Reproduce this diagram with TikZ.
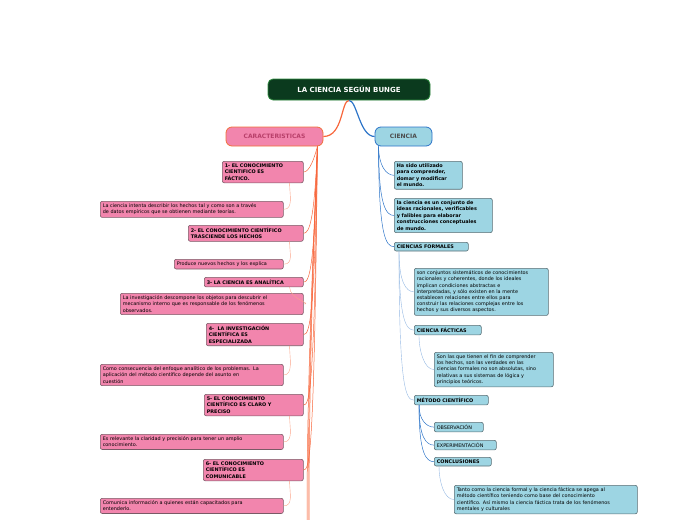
\documentclass[tikz,border=0pt]{standalone}
\usepackage{fontspec}
\setmainfont{DejaVu Sans}
\usetikzlibrary{calc}
\definecolor{titlefill}{HTML}{0B3A1E}
\definecolor{titleline}{HTML}{2E8B3E}
\definecolor{pinkfill}{HTML}{F285AD}
\definecolor{pinkline}{HTML}{7A5A66}
\definecolor{carline}{HTML}{F0703A}
\definecolor{cartext}{HTML}{B8406A}
\definecolor{bluefill}{HTML}{9DD5E3}
\definecolor{blueline}{HTML}{2C74C8}
\definecolor{boxline}{HTML}{5A6E74}
\definecolor{orangeln}{HTML}{F7653A}
\tikzset{
  box/.style={draw, rounded corners=2pt, line width=0.6pt, anchor=north west,
    inner sep=2.5pt, align=left, font=\fontsize{4.9}{6.2}\selectfont},
  pk/.style={box, fill=pinkfill, draw=pinkline},
  pkh/.style={pk, font=\fontsize{4.9}{6.4}\selectfont\bfseries},
  bl/.style={box, fill=bluefill, draw=boxline},
  blh/.style={bl, font=\fontsize{4.9}{6.4}\selectfont\bfseries},
  w/.style={text width=#1pt-5pt},
  orl/.style={orangeln, line width=0.5pt},
  ord/.style={orangeln!60, line width=0.4pt},
  bll/.style={blueline, line width=0.5pt},
  bld/.style={blueline!50, line width=0.4pt}
}
\begin{document}
\begin{tikzpicture}[x=1pt, y=-1pt]
\useasboundingbox (0,0) rectangle (697,520);
% root
\node[draw=titleline, fill=titlefill, text=white, rounded corners=5pt, line width=0.8pt,
  minimum width=162pt, minimum height=21pt, font=\fontsize{7}{8}\selectfont\bfseries]
  (root) at (349,89.5) {LA CIENCIA SEGÚN BUNGE};
\node[draw=carline, fill=pinkfill, text=cartext, rounded corners=6pt, line width=0.8pt,
  minimum width=97pt, minimum height=19pt, font=\fontsize{6}{7}\selectfont\bfseries]
  (car) at (274.5,136.5) {CARACTERISTICAS};
\node[draw=blueline, fill=bluefill, text=black!70, rounded corners=6pt, line width=0.8pt,
  minimum width=57pt, minimum height=19pt, font=\fontsize{6}{7}\selectfont\bfseries]
  (cie) at (403.5,136.5) {CIENCIA};
\draw[orangeln, line width=1.2pt] (root.south) .. controls +(-8,0) and +(20,0) .. (car.east);
\draw[blueline, line width=1.2pt] (root.south) .. controls +(8,0) and +(-15,0) .. (cie.west);

% characteristics
\node[pkh, w=81]  (c1) at (222,161) {1- EL CONOCIMIENTO\\CIENTIFICO ES\\FÁCTICO.};
\node[pk,  w=183] (d1) at (100,201) {La ciencia intenta describir los hechos tal y como son a través\\de datos empíricos que se obtienen mediante teorías.};
\node[pkh, w=115] (c2) at (188,225) {2- EL CONOCIMIENTO CIENTÍFICO\\TRASCIENDE LOS HECHOS};
\node[pk,  w=109] (d2) at (174,259) {Produce nuevos hechos y los explica};
\node[pkh, w=99]  (c3) at (204,277) {3- LA CIENCIA ES ANALÍTICA};
\node[pk,  w=183] (d3) at (120,293) {La investigación descompone los objetos para descubrir el\\mecanismo interno que es responsable de los fenómenos\\observados.};
\node[pkh, w=97]  (c4) at (206,323) {4-\ \ LA INVESTIGACIÓN\\CIENTÍFICA ES\\ESPECIALIZADA};
\node[pk,  w=183] (d4) at (100,364) {Como consecuencia del enfoque analítico de los problemas. La\\aplicación del método científico depende del asunto en\\cuestión};
\node[pkh, w=99]  (c5) at (204,394) {5- EL CONOCIMIENTO\\CIENTÍFICO ES CLARO Y\\PRECISO};
\node[pk,  w=183] (d5) at (100,434) {Es relevante la claridad y precisión para tener un amplio\\conocimiento.};
\node[pkh, w=100] (c6) at (203,459) {6- EL CONOCIMIENTO\\CIENTÍFICO ES\\COMUNICABLE};
\node[pk,  w=183] (d6) at (100,498) {Comunica información a quienes están capacitados para\\entenderlo.};

\coordinate (ctop) at ([xshift=-6pt]car.south east);
\coordinate (cbot) at (310,520);
\foreach \k in {1,...,6}{
  \draw[orl] (ctop) .. controls ($(ctop|-c\k.east)+(-3,-14)$) and +(6,0) .. (c\k.east);
}
\foreach \k in {1,2,3}{
  \draw[orl] (ctop) .. controls +(-3,80) and +(0,-150) .. ([xshift=-\k pt]cbot);
}
\foreach \k in {1,...,6}{
  \draw[ord] ([xshift=-14pt]c\k.south east) .. controls +(0,12) and +(10,0) .. (d\k.east);
}

% ciencia
\node[blh, w=68]  (b1) at (394,161) {Ha sido utilizado\\para comprender,\\domar y modificar\\el mundo.};
\node[blh, w=98]  (b2) at (394,198) {la ciencia es un conjunto de\\ideas racionales, verificables\\y falibles para elaborar\\construcciones conceptuales\\de mundo.};
\node[blh, w=74]  (fo) at (394,242) {CIENCIAS FORMALES};
\node[bl,  w=134] (fd) at (414,268) {son conjuntos sistemáticos de conocimientos\\racionales y coherentes, donde los ideales\\implican condiciones abstractas e\\interpretadas, y sólo existen en la mente\\establecen relaciones entre ellos para\\construir las relaciones complejas entre los\\hechos y sus diversos aspectos.};
\node[blh, w=67]  (fa) at (414,325) {CIENCIA FÁCTICAS};
\node[bl,  w=119] (fad) at (434,352) {Son las que tienen el fin de comprender\\los hechos, son las verdades en las\\ciencias formales no son absolutas, sino\\relativas a sus sistemas de lógica y\\principios teóricos.};
\node[blh, w=74]  (me) at (414,395) {MÉTODO CIENTÍFICO};
\node[bl,  w=49]  (ob) at (434,422) {OBSERVACIÓN};
\node[bl,  w=62]  (ex) at (434,440) {EXPERIMENTACIÓN};
\node[blh, w=57]  (co) at (434,457) {CONCLUSIONES};
\node[bl,  w=183] (cd) at (454,485) {Tanto como la ciencia formal y la ciencia fáctica se apega al\\método científico teniendo como base del conocimiento\\científico. Así mismo la ciencia fáctica trata de los fenómenos\\mentales y culturales};

\coordinate (btop) at ([xshift=4pt]cie.south west);
\foreach \n in {b1,b2,fo}{
  \draw[bll] (btop) .. controls ($(btop|-\n.west)+(0,-10)$) and +(-8,0) .. (\n.west);
}
\coordinate (ftop) at ([xshift=5pt]fo.south west);
\foreach \n in {fd,fa,me}{
  \draw[bld] (ftop) .. controls ($(ftop|-\n.west)+(0,-10)$) and +(-8,0) .. (\n.west);
}
\draw[bld] ([xshift=5pt]fa.south west) .. controls +(0,15) and +(-10,0) .. (fad.west);
\coordinate (mtop) at ([xshift=5pt]me.south west);
\foreach \n in {ob,ex,co}{
  \draw[bll] (mtop) .. controls ($(mtop|-\n.west)+(0,-8)$) and +(-8,0) .. (\n.west);
}
\draw[bld] ([xshift=5pt]co.south west) .. controls +(0,15) and +(-10,0) .. (cd.west);
\end{tikzpicture}
\end{document}
